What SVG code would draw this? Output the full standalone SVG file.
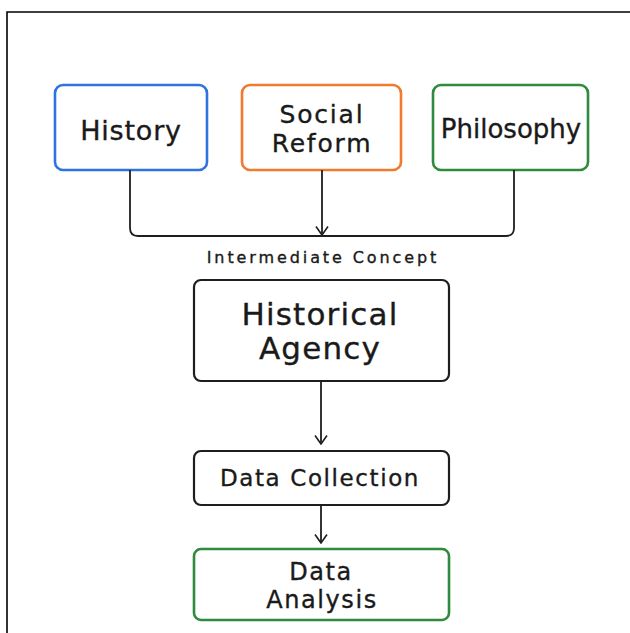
<svg xmlns="http://www.w3.org/2000/svg" width="630" height="633" viewBox="0 0 630 633">
<style>
.box{fill:#ffffff;stroke-width:2.6}
.blue{stroke:#2f72e0}
.orange{stroke:#f07a2e}
.green{stroke:#2e8a3c}
.dark{stroke:#1e1e1e;stroke-width:2.2}
.t{font-family:"DejaVu Sans",sans-serif;fill:#1a1a1a;text-anchor:middle;stroke:#1a1a1a;stroke-width:0.35}
.conn{fill:none;stroke:#1e1e1e;stroke-width:1.8}
</style>
<defs>
<marker id="arr" viewBox="0 0 10 14" refX="9.5" refY="7" markerWidth="10" markerHeight="14" markerUnits="userSpaceOnUse" orient="auto">
<path d="M1,1 L9.5,7 L1,13" fill="none" stroke="#1e1e1e" stroke-width="1.6"/>
</marker>
</defs>
<rect x="0" y="0" width="630" height="633" fill="#ffffff"/>
<path d="M7,633 V12 H630" fill="none" stroke="#000" stroke-width="1.6"/>
<g id="history">
<rect class="box blue" x="55" y="85" width="152" height="85" rx="8"/>
<text class="t" x="131" y="140" font-size="27" letter-spacing="0.8">History</text>
</g>
<g id="social-reform">
<rect class="box orange" x="242" y="85" width="159" height="85" rx="8"/>
<text class="t" x="322" y="123" font-size="25" letter-spacing="1.8">Social</text>
<text class="t" x="322" y="152" font-size="25" letter-spacing="1.8">Reform</text>
</g>
<g id="philosophy">
<rect class="box green" x="433" y="85" width="155" height="85" rx="8"/>
<text class="t" x="511" y="138" font-size="26">Philosophy</text>
</g>
<g id="connectors">
<path class="conn" d="M130,170 V228 Q130,236 138,236 H506 Q514,236 514,228 V170"/>
<path class="conn" d="M322,170 V235" marker-end="url(#arr)"/>
<path class="conn" d="M321,381 V444" marker-end="url(#arr)"/>
<path class="conn" d="M321,505 V543" marker-end="url(#arr)"/>
</g>
<g id="intermediate-label">
<text class="t" x="323" y="263" font-size="16" letter-spacing="2.9" stroke-width="0.2">Intermediate Concept</text>
</g>
<g id="historical-agency">
<rect class="box dark" x="194" y="280" width="255" height="101" rx="7"/>
<text class="t" x="320" y="325" font-size="31" letter-spacing="1.2">Historical</text>
<text class="t" x="320" y="359" font-size="31" letter-spacing="1.2">Agency</text>
</g>
<g id="data-collection">
<rect class="box dark" x="194" y="451" width="255" height="54" rx="7"/>
<text class="t" x="320" y="486" font-size="23" letter-spacing="1.6">Data Collection</text>
</g>
<g id="data-analysis">
<rect class="box green" x="194" y="549" width="255" height="71" rx="7" stroke-width="2.2"/>
<text class="t" x="321" y="580" font-size="24" letter-spacing="1.6">Data</text>
<text class="t" x="322" y="608" font-size="24" letter-spacing="1.6">Analysis</text>
</g>
</svg>
